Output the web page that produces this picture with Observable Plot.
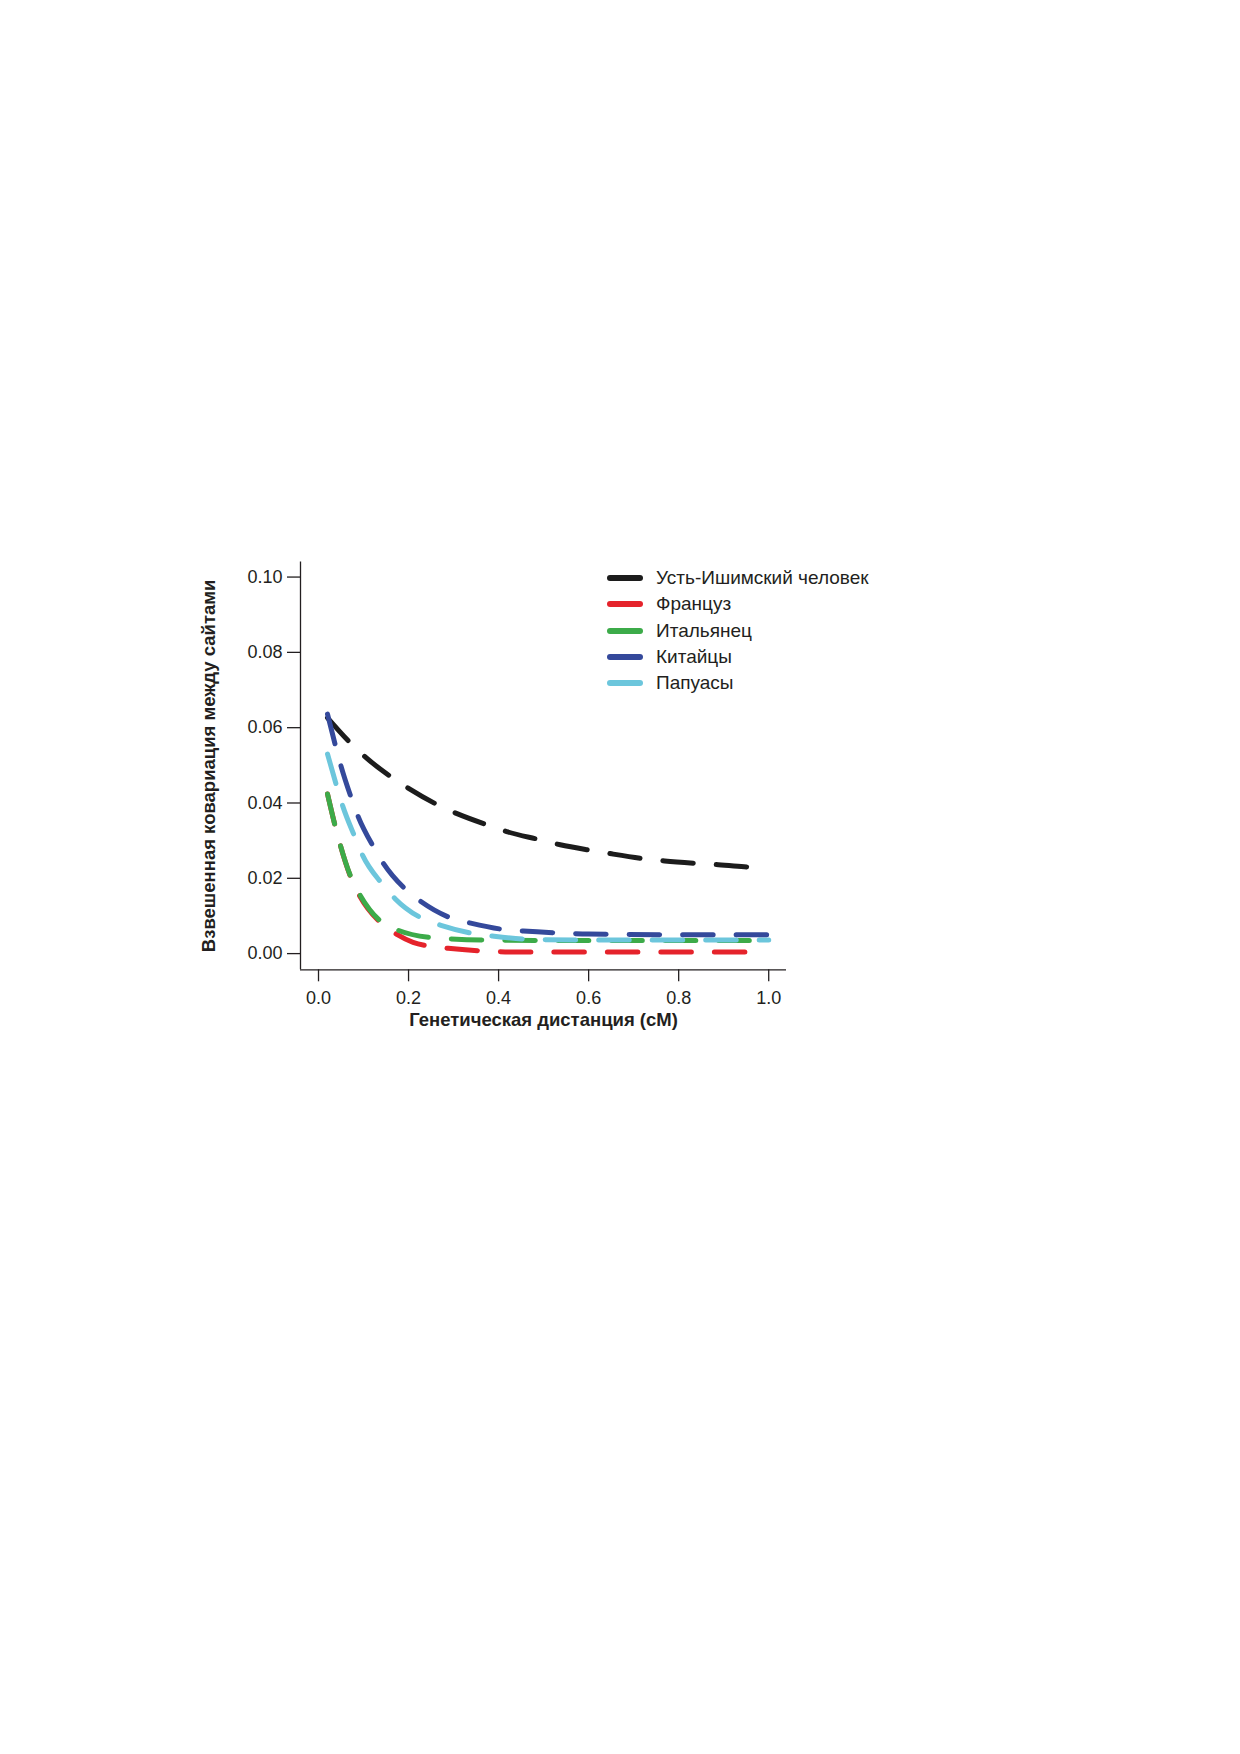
<!DOCTYPE html>
<html>
<head>
<meta charset="utf-8">
<script src="https://cdn.jsdelivr.net/npm/d3@7"></script>
<script src="https://cdn.jsdelivr.net/npm/@observablehq/plot@0.6"></script>
<style>
  body { margin: 0; background: #fff; }
  #page { position: relative; width: 1240px; height: 1754px; background: #fff; font-family: "Liberation Sans", Arial, sans-serif; }
  #chart { position: absolute; left: 0; top: 480px; }
  #legend { position: absolute; left: 604px; top: 564.8px; }
  .row { display: flex; align-items: center; height: 26.3px; font-size: 19px; color: #231f20; }
  .row svg { margin-right: 10px; }
  g[aria-label="x-axis label"] text, g[aria-label="y-axis label"] text { font-weight: bold; font-size: 18.5px; }
</style>
</head>
<body>
<div id="page">
  <div id="chart"></div>
  <div id="legend"></div>
</div>
<script>
// Series names and colours
const seriesNames = ["Усть-Ишимский человек", "Француз", "Итальянец", "Китайцы", "Папуасы"];
const seriesColors = ["#1c1c1c", "#e5232b", "#3cab49", "#34499b", "#6cc6dc"];

// Axis ticks
const xTicks = [0.0, 0.2, 0.4, 0.6, 0.8, 1.0];
const yTicks = [0.00, 0.02, 0.04, 0.06, 0.08, 0.10];
const xDomain = [-0.040, 1.0395];
const yDomain = [-0.0043, 0.104];

// Усть-Ишимский человек
const xUst = [0.020, 0.072, 0.105, 0.164, 0.201, 0.268, 0.309, 0.379, 0.418, 0.493, 0.537, 0.611, 0.651, 0.730, 0.769, 0.848, 0.888, 0.967, 1.0];
const yUst = [0.0626, 0.0558, 0.0521, 0.0467, 0.0438, 0.0393, 0.0371, 0.0340, 0.0324, 0.0302, 0.0289, 0.0273, 0.0265, 0.0251, 0.0246, 0.0239, 0.0236, 0.0229, 0.0227];

// Француз
const xFr = [0.020, 0.040, 0.0735, 0.0925, 0.140, 0.174, 0.210, 0.2457, 0.288, 0.364, 0.450, 0.600, 0.800, 0.963];
const yFr = [0.0424, 0.0325, 0.0197, 0.0151, 0.0080, 0.0051, 0.0030, 0.0020, 0.0014, 0.0007, 0.0004, 0.0004, 0.0004, 0.0004];

// Итальянец
const xIt = [0.020, 0.040, 0.0735, 0.0925, 0.140, 0.177, 0.253, 0.295, 0.372, 0.500, 0.700, 1.0];
const yIt = [0.0424, 0.0325, 0.0199, 0.0155, 0.0084, 0.0062, 0.0042, 0.0039, 0.0036, 0.0035, 0.0035, 0.0035];

// Китайцы
const xCh = [0.020, 0.0386, 0.0497, 0.0735, 0.0881, 0.1223, 0.1445, 0.196, 0.229, 0.298, 0.338, 0.412, 0.455, 0.530, 0.600, 0.800, 1.0];
const yCh = [0.0636, 0.0548, 0.0499, 0.0411, 0.0364, 0.0283, 0.0239, 0.0168, 0.0137, 0.0093, 0.0081, 0.0064, 0.0060, 0.0055, 0.0052, 0.0050, 0.0050];

// Папуасы
const xPa = [0.020, 0.041, 0.0535, 0.081, 0.098, 0.140, 0.170, 0.231, 0.272, 0.3455, 0.390, 0.471, 0.600, 0.800, 1.0];
const yPa = [0.0530, 0.0442, 0.0393, 0.0309, 0.0261, 0.0187, 0.0146, 0.0093, 0.0075, 0.0053, 0.0046, 0.0038, 0.0036, 0.0036, 0.0036];

// Build table (draw order: black, red, green, cyan, blue on top)
const seriesData = [
  [seriesNames[0], xUst, yUst],
  [seriesNames[1], xFr, yFr],
  [seriesNames[2], xIt, yIt],
  [seriesNames[4], xPa, yPa],
  [seriesNames[3], xCh, yCh]
];
const rows = seriesData.flatMap(([name, xs, ys]) => xs.map((x, i) => ({series: name, x, y: ys[i]})));

const ink = "#231f20";
const chart = Plot.plot({
  width: 1240,
  height: 600,
  marginLeft: 300,
  marginRight: 454,
  marginTop: 81.5,
  marginBottom: 110.7,
  style: { fontFamily: "'Liberation Sans', Arial, sans-serif", fontSize: "18px", color: ink, background: "white" },
  x: { domain: xDomain },
  y: { domain: yDomain },
  color: { domain: seriesNames, range: seriesColors },
  marks: [
    Plot.axisY({ ticks: yTicks, tickFormat: d3.format(".2f"), tickSize: 13, tickPadding: 5, strokeWidth: 1.3,
      label: "Взвешенная ковариация между сайтами", labelAnchor: "center", labelArrow: "none", labelOffset: 99 }),
    Plot.axisX({ ticks: xTicks, tickFormat: d3.format(".1f"), tickSize: 12, tickPadding: 9, strokeWidth: 1.3,
      label: "Генетическая дистанция (cM)", labelAnchor: "center", labelArrow: "none", labelOffset: 56 }),
    Plot.ruleX([xDomain[0]], { stroke: ink, strokeWidth: 1.3 }),
    Plot.ruleY([yDomain[0]], { stroke: ink, strokeWidth: 1.3 }),
    Plot.line(rows, { x: "x", y: "y", z: "series", stroke: "series", strokeWidth: 5,
      strokeDasharray: "30.5,23", strokeLinecap: "round", strokeLinejoin: "round", curve: "monotone-x" })
  ]
});
document.getElementById("chart").appendChild(chart);

// Legend
const legend = document.getElementById("legend");
seriesNames.forEach((name, i) => {
  const row = document.createElement("div");
  row.className = "row";
  row.innerHTML = `<svg width="42" height="10"><line x1="6" y1="5" x2="36" y2="5" stroke="${seriesColors[i]}" stroke-width="6" stroke-linecap="round"/></svg><span>${name}</span>`;
  legend.appendChild(row);
});
</script>
</body>
</html>
